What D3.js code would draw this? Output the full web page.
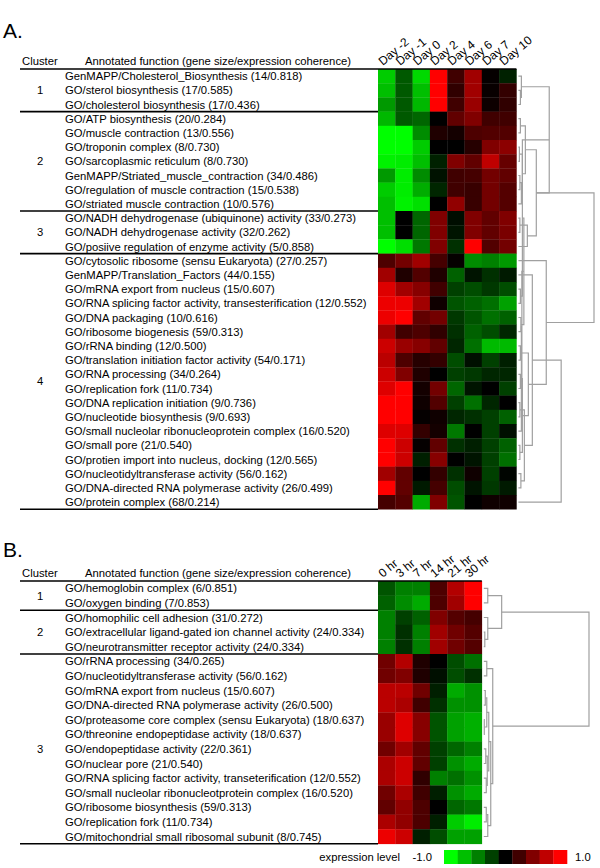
<!DOCTYPE html>
<html>
<head>
<meta charset="utf-8">
<script src="https://cdn.jsdelivr.net/npm/d3@7"></script>
<style>
body { margin: 0; background: #fff; }
text { font-family: "Liberation Sans", Arial, sans-serif; fill: #000; }
</style>
</head>
<body>
<svg width="600" height="868"></svg>
<script>
// ---- panel A data ----
var colsA = ["Day -2", "Day -1", "Day 0", "Day 2", "Day 4", "Day 6", "Day 7", "Day 10"];
var clusterSizesA = [3, 7, 3, 18];
var termsA = [
  "GenMAPP/Cholesterol_Biosynthesis (14/0.818)",
  "GO/sterol biosynthesis (17/0.585)",
  "GO/cholesterol biosynthesis (17/0.436)",
  "GO/ATP biosynthesis (20/0.284)",
  "GO/muscle contraction (13/0.556)",
  "GO/troponin complex (8/0.730)",
  "GO/sarcoplasmic reticulum (8/0.730)",
  "GenMAPP/Striated_muscle_contraction (34/0.486)",
  "GO/regulation of muscle contraction (15/0.538)",
  "GO/striated muscle contraction (10/0.576)",
  "GO/NADH dehydrogenase (ubiquinone) activity (33/0.273)",
  "GO/NADH dehydrogenase activity (32/0.262)",
  "GO/posiive regulation of enzyme activity (5/0.858)",
  "GO/cytosolic ribosome (sensu Eukaryota) (27/0.257)",
  "GenMAPP/Translation_Factors (44/0.155)",
  "GO/mRNA export from nucleus (15/0.607)",
  "GO/RNA splicing factor activity, transesterification (12/0.552)",
  "GO/DNA packaging (10/0.616)",
  "GO/ribosome biogenesis (59/0.313)",
  "GO/rRNA binding (12/0.500)",
  "GO/translation initiation factor activity (54/0.171)",
  "GO/RNA processing (34/0.264)",
  "GO/replication fork (11/0.734)",
  "GO/DNA replication initiation (9/0.736)",
  "GO/nucleotide biosynthesis (9/0.693)",
  "GO/small nucleolar ribonucleoprotein complex (16/0.520)",
  "GO/small pore (21/0.540)",
  "GO/protien import into nucleus, docking (12/0.565)",
  "GO/nucleotidyltransferase activity (56/0.162)",
  "GO/DNA-directed RNA polymerase activity (26/0.499)",
  "GO/protein complex (68/0.214)"
];
var valuesA = [
  [-0.8, -0.35, -0.85, 1.0, 0.25, 0.63, 0.02, -0.13],
  [-0.75, -0.35, -0.75, 1.0, 0.19, 0.63, 0.03, 0.2],
  [-0.6, -0.35, -0.72, 1.0, 0.25, 0.6, 0.05, 0.19],
  [-0.72, -0.35, -0.4, 0.0, 0.38, 0.5, 0.25, 0.25],
  [-1.0, -1.0, -0.55, 0.12, 0.08, 0.3, 0.32, 0.32],
  [-1.0, -1.0, -0.8, 0.0, 0.0, 0.15, 0.5, 0.55],
  [-0.95, -0.93, -0.75, -0.13, 0.5, 0.38, 0.75, 0.4],
  [-0.6, -0.93, -0.55, -0.07, 0.25, 0.27, 0.45, 0.38],
  [-0.8, -0.93, -0.68, -0.15, 0.25, 0.22, 0.45, 0.33],
  [-0.75, -0.95, -0.88, 0.0, 0.57, 0.22, 0.45, 0.33],
  [-0.75, 0.0, -0.4, 0.5, -0.05, 0.5, 0.38, 0.5],
  [-0.75, 0.0, -0.4, 0.5, -0.08, 0.5, 0.38, 0.48],
  [-1.0, -0.87, -0.47, 0.5, -0.19, 1.0, 0.32, 0.45],
  [0.3, 0.45, 0.63, 0.27, 0.02, -0.55, -0.5, -0.6],
  [0.63, 0.12, 0.32, 0.12, -0.38, -0.08, -0.19, -0.1],
  [0.87, 0.63, 0.53, 0.25, -0.25, -0.3, -0.22, -0.3],
  [0.93, 0.93, 0.63, 0.06, -0.33, -0.38, -0.44, -0.63],
  [0.93, 1.0, 0.38, 0.45, -0.22, -0.33, -0.44, -0.38],
  [0.63, 0.25, 0.3, 0.19, -0.19, -0.38, -0.3, -0.15],
  [0.8, 0.6, 0.53, 0.38, -0.15, -0.44, -0.73, -0.73],
  [0.73, 0.3, 0.15, 0.2, -0.3, -0.06, -0.25, -0.12],
  [0.8, 0.5, 0.12, 0.0, -0.25, -0.22, -0.15, -0.15],
  [0.87, 1.0, 0.08, 0.45, -0.4, -0.08, 0.0, -0.25],
  [1.0, 1.0, 0.06, 0.32, -0.25, -0.44, -0.15, 0.0],
  [1.0, 1.0, 0.02, 0.06, -0.15, -0.19, -0.25, -0.38],
  [0.87, 0.87, 0.2, 0.08, -0.47, 0.0, -0.25, -0.06],
  [1.0, 0.8, 0.02, 0.38, -0.19, -0.12, -0.25, -0.38],
  [1.0, 0.8, -0.12, 0.53, 0.0, -0.08, -0.25, -0.44],
  [0.63, 0.38, 0.0, 0.2, -0.19, 0.06, -0.25, -0.02],
  [1.0, 0.38, -0.1, 0.27, -0.3, -0.08, -0.22, -0.1],
  [0.27, 0.33, -0.67, 0.5, -0.33, 0.0, 0.06, 0.06]
];
// dendrogram merges: [left, right, height]; leaves 0..n-1, merged nodes n, n+1, ...
var linkA = [
  [1, 2, 2], [0, 31, 3],
  [3, 4, 2], [5, 6, 1], [7, 8, 1.5], [35, 9, 3], [34, 36, 4], [33, 37, 7],
  [10, 11, 1.5], [39, 12, 9], [38, 40, 18], [32, 41, 31],
  [15, 16, 2], [17, 18, 2.5], [42, 43, 4], [19, 20, 2], [44, 45, 5.5],
  [21, 22, 2], [23, 24, 1.5], [47, 48, 3.5], [26, 27, 1.5], [25, 50, 3],
  [28, 29, 2.5], [51, 52, 4], [49, 53, 6], [46, 54, 10],
  [14, 55, 14], [13, 56, 28], [57, 30, 43], [41, 58, 76]
];

// ---- panel B data ----
var colsB = ["0 hr", "3 hr", "7 hr", "14 hr", "21 hr", "30 hr"];
var clusterSizesB = [2, 3, 13];
var termsB = [
  "GO/hemoglobin complex (6/0.851)",
  "GO/oxygen binding (7/0.853)",
  "GO/homophilic cell adhesion (31/0.272)",
  "GO/extracellular ligand-gated ion channel activity (24/0.334)",
  "GO/neurotransmitter receptor activity (24/0.334)",
  "GO/rRNA processing (34/0.265)",
  "GO/nucleotidyltransferase activity (56/0.162)",
  "GO/mRNA export from nucleus (15/0.607)",
  "GO/DNA-directed RNA polymerase activity (26/0.500)",
  "GO/proteasome core complex (sensu Eukaryota) (18/0.637)",
  "GO/threonine endopeptidase activity (18/0.637)",
  "GO/endopeptidase activity (22/0.361)",
  "GO/nuclear pore (21/0.540)",
  "GO/RNA splicing factor activity, transeterification (12/0.552)",
  "GO/small nucleolar ribonucleotprotein complex (16/0.520)",
  "GO/ribosome biosynthesis (59/0.313)",
  "GO/replication fork (11/0.734)",
  "GO/mitochondrial small ribosomal subunit (8/0.745)"
];
var valuesB = [
  [-0.33, -0.5, -0.5, 0.3, 0.7, 1.0],
  [-0.38, -0.55, -0.67, 0.3, 0.63, 1.0],
  [-0.5, -0.25, -0.38, 0.5, 0.33, 0.27],
  [-0.5, -0.19, -0.5, 0.63, 0.44, 0.33],
  [-0.5, -0.19, -0.5, 0.63, 0.44, 0.33],
  [0.44, 0.7, 0.12, 0.0, -0.3, -0.44],
  [0.44, 0.5, 0.12, -0.06, -0.3, -0.19],
  [0.73, 0.73, 0.44, -0.12, -0.67, -0.57],
  [0.73, 0.67, 0.25, -0.19, -0.57, -0.57],
  [0.6, 0.87, 0.53, -0.33, -0.63, -0.69],
  [0.6, 0.87, 0.53, -0.33, -0.63, -0.69],
  [0.44, 0.63, 0.38, -0.25, -0.4, -0.5],
  [0.67, 0.8, 0.38, -0.25, -0.57, -0.67],
  [0.67, 0.8, 0.19, -0.5, -0.44, -0.57],
  [0.44, 0.67, 0.25, -0.12, -0.57, -0.67],
  [0.38, 0.57, 0.3, 0.0, -0.4, -0.47],
  [0.67, 0.57, 0.3, -0.12, -0.8, -0.93],
  [0.93, 0.8, -0.12, -0.3, -0.63, -0.63]
];
var linkB = [
  [0, 1, 4], [3, 4, 1], [2, 19, 4], [18, 20, 18],
  [5, 6, 3], [7, 8, 1.5], [9, 10, 0.5], [23, 24, 3], [11, 12, 2], [13, 14, 2.5],
  [26, 27, 3.5], [25, 28, 5], [15, 16, 2.5], [30, 17, 4], [29, 31, 7], [22, 32, 9],
  [21, 33, 106]
];

// ---- legend ----
var legendSteps = [-1, -0.75, -0.5, -0.25, 0, 0.25, 0.5, 0.75, 1];

var svg = d3.select("svg");
var color = d3.scaleLinear().domain([-1, 0, 1]).range(["#00ff00", "#000000", "#ff0000"]).clamp(true);

var FS = 11.5, SX = 0.98;

function label(g, x, y, s, size, anchor) {
  return g.append("text")
    .attr("transform", "translate(" + x + "," + y + ") scale(" + SX + ",1)")
    .attr("dy", "0.35em")
    .attr("text-anchor", anchor || "start")
    .style("font-size", (size || FS) + "px")
    .text(s);
}

function panel(opt) {
  var g = svg.append("g");
  var n = opt.terms.length;
  var x = d3.scaleBand().domain(opt.cols).range([opt.left, opt.left + opt.cellW * opt.cols.length]);
  var y = d3.scaleBand().domain(d3.range(n)).range([opt.top, opt.top + opt.rowH * n]);
  var right = x.range()[1];

  // panel letter
  g.append("text").attr("x", 3).attr("y", opt.letterY)
    .style("font-size", "21px").text(opt.letter);

  // headers
  label(g, 22, opt.top - 8, "Cluster");
  label(g, 85, opt.top - 8, "Annotated function (gene size/expression coherence)");

  // heatmap cells
  g.append("g").selectAll("g").data(opt.values).join("g")
    .attr("transform", function(d, i) { return "translate(0," + y(i) + ")"; })
    .selectAll("rect").data(function(d) { return d; }).join("rect")
    .attr("x", function(d, j) { return x(opt.cols[j]); })
    .attr("width", x.bandwidth() + 0.3)
    .attr("height", y.bandwidth() + 0.3)
    .attr("fill", function(d) { return color(d); });

  // column labels
  g.append("g").selectAll("text").data(opt.cols).join("text")
    .attr("transform", function(d) {
      return "translate(" + (x(d) + x.bandwidth() / 2 - 4) + "," + (opt.top - 3) + ") rotate(-40)";
    })
    .style("font-size", "12px")
    .text(function(d) { return d; });

  // row labels
  opt.terms.forEach(function(t, i) {
    label(g, 65, y(i) + y.bandwidth() / 2, t);
  });

  // cluster lines and numbers
  g.append("line").attr("x1", 20).attr("x2", right).attr("y1", opt.top).attr("y2", opt.top)
    .attr("stroke", "#000").attr("stroke-width", 1.6);
  var start = 0;
  opt.clusters.forEach(function(c, k) {
    var y0 = y(start), y1 = y(start + c - 1) + y.bandwidth();
    label(g, 40, (y0 + y1) / 2, String(k + 1), FS, "middle");
    g.append("line").attr("x1", 20).attr("x2", opt.left).attr("y1", y1).attr("y2", y1)
      .attr("stroke", "#000").attr("stroke-width", 1.6);
    start += c;
  });

  // dendrogram
  var hx = d3.scaleLinear().domain([0, opt.maxH]).range([right + 2, opt.rootX]);
  var pos = d3.range(n).map(function(i) { return { x: hx(0), y: y(i) + y.bandwidth() / 2 }; });
  var dg = g.append("g").attr("fill", "none").attr("stroke", "#a0a0a0").attr("stroke-width", 1.2);
  opt.links.forEach(function(l) {
    var a = pos[l[0]], b = pos[l[1]], xx = hx(l[2]);
    var p = d3.path();
    p.moveTo(a.x, a.y); p.lineTo(xx, a.y); p.lineTo(xx, b.y); p.lineTo(b.x, b.y);
    dg.append("path").attr("d", p.toString());
    pos.push({ x: xx, y: (a.y + b.y) / 2 });
  });
}

panel({ letter: "A.", letterY: 38, cols: colsA, terms: termsA, values: valuesA,
  clusters: clusterSizesA, links: linkA, maxH: 76, rootX: 594,
  left: 378, cellW: 17.3, top: 69, rowH: 14.2 });

panel({ letter: "B.", letterY: 557, cols: colsB, terms: termsB, values: valuesB,
  clusters: clusterSizesB, links: linkB, maxH: 106, rootX: 589,
  left: 378, cellW: 17.3, top: 581, rowH: 14.6 });

// legend
var lx = d3.scaleBand().domain(legendSteps).range([444, 567]);
var lg = svg.append("g");
lg.selectAll("rect").data(legendSteps).join("rect")
  .attr("x", function(d) { return lx(d); })
  .attr("y", 850).attr("width", lx.bandwidth() + 0.3).attr("height", 14)
  .attr("fill", function(d) { return color(d); });
label(lg, 400, 857, "expression level", FS, "end");
label(lg, 432, 857, "-1.0", FS, "end");
label(lg, 575, 857, "1.0", FS, "start");
</script>
</body>
</html>
